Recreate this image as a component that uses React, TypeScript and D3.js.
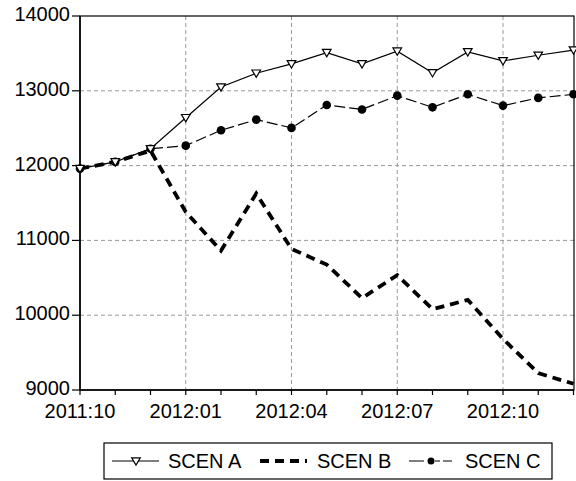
import React from "react";
import * as d3 from "d3";

const months = ["2011:10","2011:11","2011:12","2012:01","2012:02","2012:03","2012:04","2012:05","2012:06","2012:07","2012:08","2012:09","2012:10","2012:11","2012:12"];
const scenA = [11960,12050,12225,12640,13050,13235,13360,13510,13360,13530,13240,13520,13400,13475,13545];
const scenB = [11960,12050,12200,11380,10863,11626,10886,10676,10229,10535,10080,10205,9683,9225,9083];
const scenC = [11960,12050,12225,12267,12472,12615,12504,12810,12751,12935,12779,12953,12802,12905,12953];
const yTicks = [9000,10000,11000,12000,13000,14000];
const xLabelIdx = [0,3,6,9,12];

const L = 80, R = 574, T = 16, B = 390;
const FONT = "'Liberation Sans', Arial, Helvetica, sans-serif";

function tri(x: number, y: number, s = 4.3) {
  return `M${x - s},${y - s * 0.75} L${x + s},${y - s * 0.75} L${x},${y + s * 0.95} Z`;
}

export default function App() {
  const x = d3.scaleLinear().domain([0, months.length - 1]).range([L, R - 0.5]);
  const y = d3.scaleLinear().domain([9000, 14000]).range([B, T]);
  const line = d3.line<number>().x((_, i) => x(i)).y((d) => y(d));

  return (
    <svg width={576} height={481} style={{ position: "absolute", left: 0, top: 0, background: "#fff" }} fontFamily={FONT}>
      {yTicks.filter((t) => t > 9000 && t < 14000).map((t) => (
        <line key={"gy" + t} x1={L} x2={R} y1={y(t)} y2={y(t)} stroke="#999" strokeWidth={1} strokeDasharray="4,3" />
      ))}
      {xLabelIdx.filter((i) => i > 0).map((i) => (
        <line key={"gx" + i} x1={x(i)} x2={x(i)} y1={T} y2={B} stroke="#999" strokeWidth={1} strokeDasharray="4,3" />
      ))}
      <rect x={L} y={T} width={R - L} height={B - T} fill="none" stroke="#000" strokeWidth={1.2} />
      <line x1={L} x2={L} y1={T} y2={B} stroke="#000" strokeWidth={1.5} />
      <line x1={L} x2={R} y1={B} y2={B} stroke="#000" strokeWidth={1.5} />
      {yTicks.map((t) => (
        <g key={"yt" + t}>
          <line x1={L - 8} x2={L} y1={y(t)} y2={y(t)} stroke="#000" strokeWidth={1.2} />
          <text x={L - 10} y={y(t) + 5} textAnchor="end" fontSize={20} fill="#000">{t}</text>
        </g>
      ))}
      {months.map((m, i) => (
        <line key={"xt" + i} x1={x(i)} x2={x(i)} y1={B} y2={B + 5} stroke="#000" strokeWidth={1.2} />
      ))}
      {xLabelIdx.map((i) => (
        <text key={"xl" + i} x={x(i)} y={418} textAnchor="middle" fontSize={20} fill="#000">{months[i]}</text>
      ))}
      <path d={line(scenA) || ""} fill="none" stroke="#000" strokeWidth={1.2} />
      <path d={line(scenC) || ""} fill="none" stroke="#000" strokeWidth={1.2} strokeDasharray="11,4" />
      {scenC.map((d, i) => (
        <circle key={"c" + i} cx={x(i)} cy={y(d)} r={4.3} fill="#000" />
      ))}
      <path d={line(scenB) || ""} fill="none" stroke="#000" strokeWidth={3.8} strokeDasharray="9,6" />
      {scenA.map((d, i) => (
        <path key={"a" + i} d={tri(x(i), y(d))} fill="#fff" stroke="#000" strokeWidth={1.2} />
      ))}
      <rect x={104} y={443} width={448} height={36} fill="#fff" stroke="#000" strokeWidth={1.2} />
      <line x1={112} x2={159} y1={461} y2={461} stroke="#000" strokeWidth={1.2} />
      <path d={tri(136, 461)} fill="#fff" stroke="#000" strokeWidth={1.2} />
      <text x={168} y={468} fontSize={20} fill="#000">SCEN A</text>
      <line x1={260} x2={307} y1={461} y2={461} stroke="#000" strokeWidth={3.8} strokeDasharray="9,6" />
      <text x={317} y={468} fontSize={20} fill="#000">SCEN B</text>
      <line x1={409} x2={452} y1={461} y2={461} stroke="#000" strokeWidth={1.2} strokeDasharray="15,4,4,3,5,3" />
      <circle cx={431} cy={461} r={3.5} fill="#000" />
      <text x={465} y={468} fontSize={20} fill="#000">SCEN C</text>
    </svg>
  );
}
